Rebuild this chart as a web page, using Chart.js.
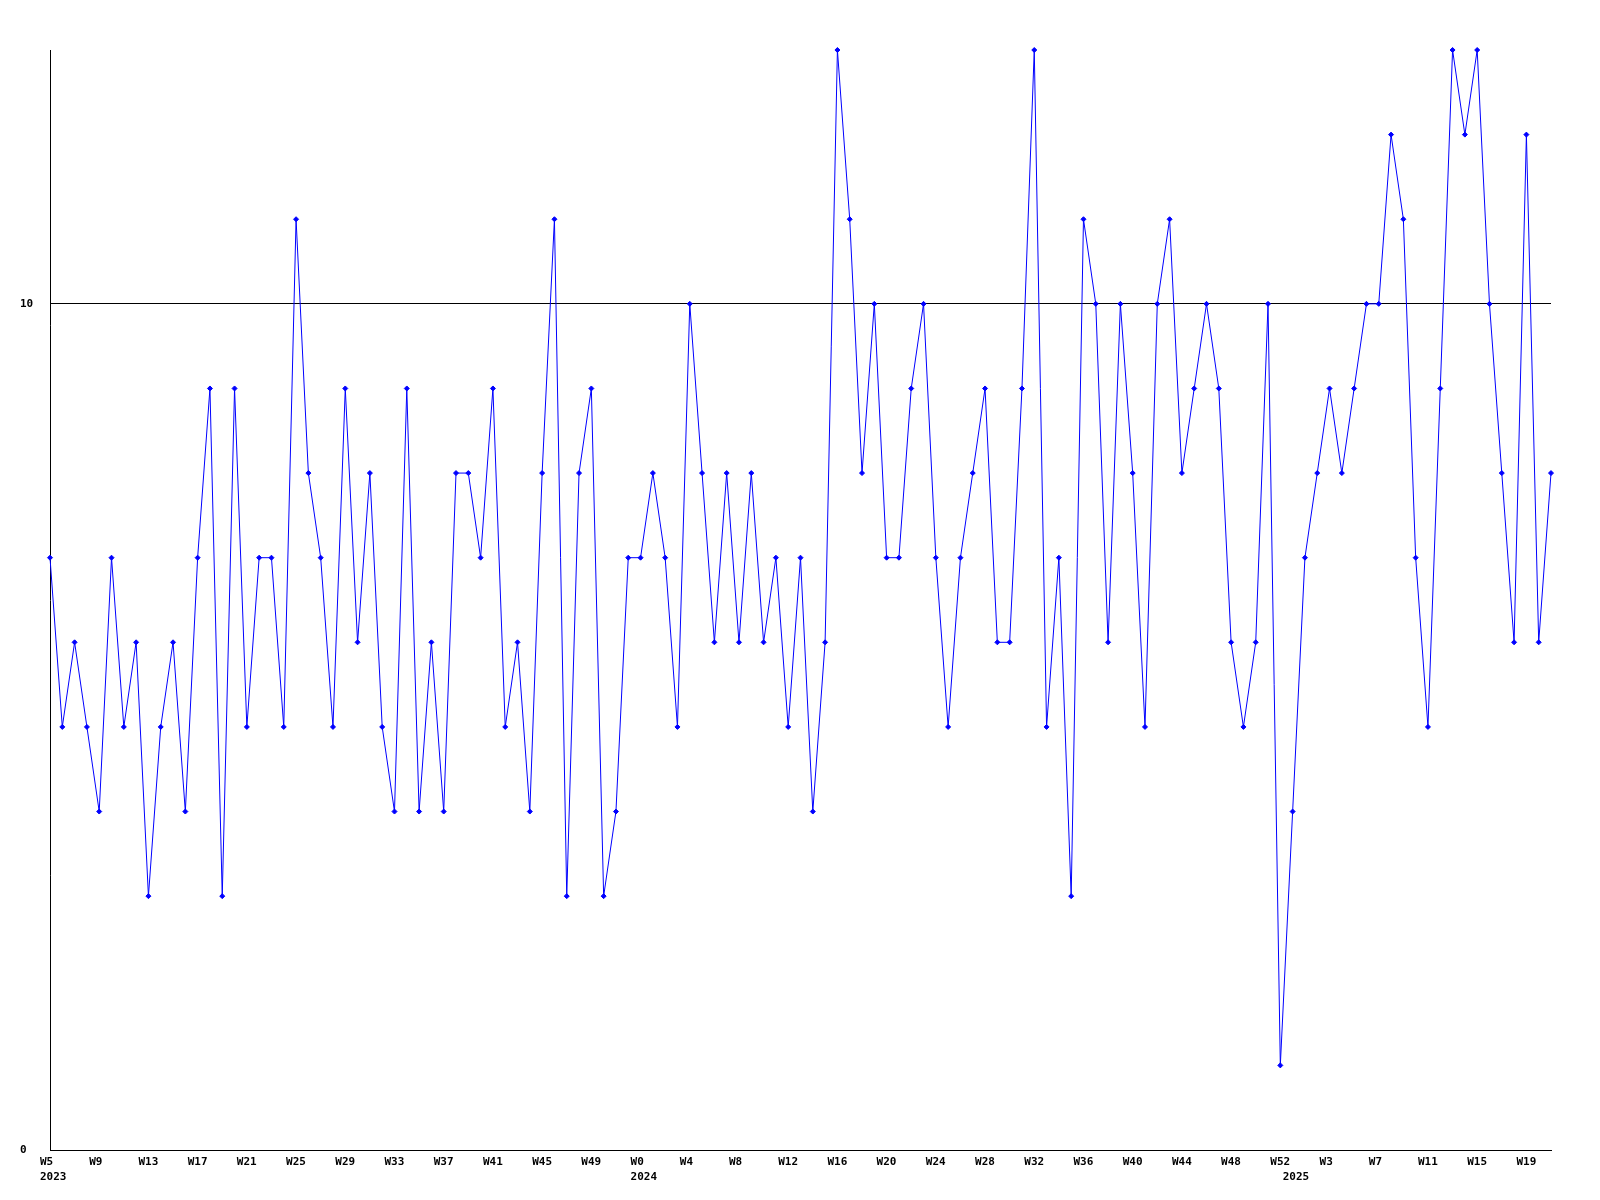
<!DOCTYPE html>
<html>
<head>
<meta charset="utf-8">
<title>Weekly chart</title>
<script src="https://cdn.jsdelivr.net/npm/chart.js@4/dist/chart.umd.min.js"></script>
<style>
    html, body { margin: 0; padding: 0; background: #ffffff; }
    canvas { display: block; }
</style>
</head>
<body>
<canvas id="weeklyChart" width="1600" height="1200"></canvas>
<script>
// Categories: one entry per week, "year week"
const weeks2023 = ['W5','W6','W7','W8','W9','W10','W11','W12','W13','W14','W15','W16','W17','W18','W19','W20',
    'W21','W22','W23','W24','W25','W26','W27','W28','W29','W30','W31','W32','W33','W34','W35','W36',
    'W37','W38','W39','W40','W41','W42','W43','W44','W45','W46','W47','W48','W49','W50','W51','W52'];
const weeks2024 = ['W0','W1','W2','W3','W4','W5','W6','W7','W8','W9','W10','W11','W12','W13','W14','W15','W16',
    'W17','W18','W19','W20','W21','W22','W23','W24','W25','W26','W27','W28','W29','W30','W31','W32',
    'W33','W34','W35','W36','W37','W38','W39','W40','W41','W42','W43','W44','W45','W46','W47','W48',
    'W49','W50','W51','W52'];
const weeks2025 = ['W0','W1','W2','W3','W4','W5','W6','W7','W8','W9','W10','W11','W12','W13','W14','W15',
    'W16','W17','W18','W19','W20','W21'];

const categories = [
    ...weeks2023.map(w => '2023 ' + w),
    ...weeks2024.map(w => '2024 ' + w),
    ...weeks2025.map(w => '2025 ' + w)
];

// Series values
const values = [
    7, 5, 6, 5, 4, 7, 5, 6, 3, 5, 6, 4, 7, 9, 3, 9,
    5, 7, 7, 5, 11, 8, 7, 5, 9, 6, 8, 5, 4, 9, 4, 6,
    4, 8, 8, 7, 9, 5, 6, 4, 8, 11, 3, 8, 9, 3, 4, 7,
    7, 8, 7, 5, 10, 8, 6, 8, 6, 8, 6, 7, 5, 7, 4, 6,
    13, 11, 8, 10, 7, 7, 9, 10, 7, 5, 7, 8, 9, 6, 6, 9,
    13, 5, 7, 3, 11, 10, 6, 10, 8, 5, 10, 11, 8, 9, 10, 9,
    6, 5, 6, 10, 1, 4, 7, 8, 9, 8, 9, 10, 10, 12, 11, 7,
    5, 9, 13, 12, 13, 10, 8, 6, 12, 6, 8
];

const yTicks = [0, 10];
const labelEvery = 4;

const blue = '#0000ff';
const axisFont = { family: '"DejaVu Sans Mono", "Liberation Mono", monospace', size: 11, weight: 'bold', lineHeight: '15px' };

function tickLabel(index) {
    const [year, week] = categories[index].split(' ');
    const prevYear = index > 0 ? categories[index - 1].split(' ')[0] : null;
    const lines = [index % labelEvery === 0 ? week : ''];
    if (year !== prevYear) lines.push(year);
    return lines.length > 1 ? lines : lines[0];
}

const ctx = document.getElementById('weeklyChart');

new Chart(ctx, {
    type: 'line',
    data: {
        labels: categories,
        datasets: [{
            data: values,
            borderColor: blue,
            backgroundColor: blue,
            borderWidth: 1,
            pointStyle: 'rectRot',
            pointRadius: 2.5,
            pointBorderWidth: 1,
            tension: 0,
            clip: false
        }]
    },
    options: {
        responsive: false,
        animation: false,
        devicePixelRatio: 1,
        layout: { padding: { left: 20, top: 50, right: 49, bottom: 0 } },
        plugins: {
            legend: { display: false },
            tooltip: { enabled: false }
        },
        scales: {
            x: {
                type: 'category',
                offset: false,
                grid: { display: false },
                border: { display: true, color: '#000000', width: 1 },
                afterFit: scale => { scale.height = 50; },
                ticks: {
                    autoSkip: false,
                    maxRotation: 0,
                    minRotation: 0,
                    align: 'start',
                    labelOffset: -10,
                    padding: -3,
                    color: '#000000',
                    font: axisFont,
                    callback: (value, index) => tickLabel(index)
                }
            },
            y: {
                min: 0,
                max: 13,
                afterBuildTicks: scale => { scale.ticks = yTicks.map(v => ({ value: v })); },
                afterFit: scale => { scale.width = 30; },
                grid: { color: '#000000', lineWidth: 1, drawTicks: false },
                border: { display: true, color: '#000000', width: 1 },
                ticks: {
                    crossAlign: 'far',
                    padding: 0,
                    color: '#000000',
                    font: axisFont
                }
            }
        }
    }
});
</script>
</body>
</html>
